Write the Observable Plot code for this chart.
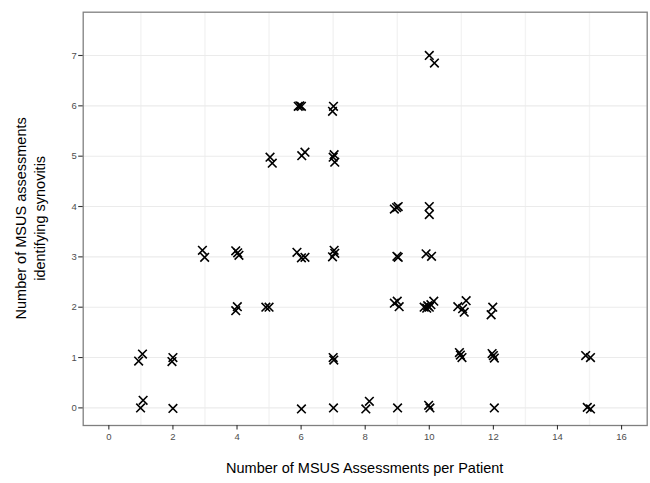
<!DOCTYPE html>
<html>
<head>
<meta charset="utf-8">
<script src="https://cdn.jsdelivr.net/npm/d3@7"></script>
<script src="https://cdn.jsdelivr.net/npm/@observablehq/plot@0.6"></script>
<style>
  html, body { margin: 0; padding: 0; background: #fff; }
  svg { display: block; }
</style>
</head>
<body>
<div id="chart"></div>
<script>
const assessments = [0.93,1.05,0.99,1.07, 2.0,1.97,2.0, 2.92,2.99, 3.96,4.06,4.02,3.96,4.01,
  4.9,5.0,5.03,5.1, 5.91,6.01,5.96,6.02,6.12,5.87,6.01,6.12,6.01,
  7.01,6.98,7.03,7.0,7.05,7.03,6.98,7.05,7.0,7.02,7.01, 8.02,8.13,
  8.91,9.03,8.98,9.03,8.99,8.91,9.06,9.0,9.01,
  10.0,10.0,9.9,10.07,9.84,9.95,10.0,10.14,9.92,10.05,9.98,10.02,10.0,10.16,
  10.89,11.04,11.15,11.09,10.94,11.02,10.97,
  11.98,11.93,11.96,12.03,12.0,12.03, 14.88,15.03,14.93,15.03];
const synovitis = [0.93,1.07,0.0,0.15, 1.0,0.92,-0.01, 3.13,2.99, 3.12,3.03,3.08,1.93,2.01,
  2.0,2.0,4.98,4.86, 5.99,5.99,6.0,5.01,5.08,3.09,2.98,2.99,-0.02,
  5.99,5.89,5.03,4.98,4.88,3.13,3.0,3.07,1.0,0.95,0.0, -0.02,0.13,
  3.95,4.0,3.98,2.99,3.01,2.08,2.01,2.12,0.0,
  4.0,3.84,3.06,3.01,2.0,2.03,2.0,2.12,1.98,2.05,0.05,0.0,7.0,6.85,
  2.01,1.97,2.13,1.9,1.1,1.0,1.05,
  2.0,1.85,1.08,0.99,1.04,0.0, 1.04,1.0,0.01,-0.02];
const xTicks = [0, 2, 4, 6, 8, 10, 12, 14, 16];
const xMinor = [1, 3, 5, 7, 9, 11, 13, 15];
const yTicks = [0, 1, 2, 3, 4, 5, 6, 7];
const xTitle = "Number of MSUS Assessments per Patient";
const yTitle = ["Number of MSUS assessments", "identifying synovitis"];

const data = assessments.map((x, i) => ({x, y: synovitis[i]}));

const W = 650, H = 483;
const mL = 82.7, mR = 3.3, mT = 11.7, mB = 58;

const plot = Plot.plot({
  width: W, height: H,
  marginLeft: mL, marginRight: mR, marginTop: mT, marginBottom: mB,
  style: {fontFamily: "'Liberation Sans', Arial, sans-serif", background: "#fff"},
  x: {domain: [-0.8, 16.8]},
  y: {domain: [-0.35, 7.86]},
  marks: [
    Plot.gridX(xMinor, {stroke: "#f3f3f3", strokeOpacity: 1, strokeWidth: 1.4}),
    Plot.gridY(yTicks, {stroke: "#ebebeb", strokeOpacity: 1, strokeWidth: 1.1}),
    Plot.dot(data, {x: "x", y: "y", symbol: "times", r: 4, stroke: "#000", strokeWidth: 1.6}),
    Plot.frame({stroke: "#7f7f7f", strokeWidth: 1.3}),
    Plot.axisX(xTicks, {tickSize: 4.5, tickPadding: 3, fontSize: 9.5, tickFormat: d3.format("d"), stroke: "#333", strokeWidth: 1.1, color: "#4d4d4d", label: null}),
    Plot.axisY(yTicks, {tickSize: 4.5, tickPadding: 2, fontSize: 9.5, tickFormat: d3.format("d"), stroke: "#333", strokeWidth: 1.1, color: "#4d4d4d", label: null})
  ]
});

const svg = d3.select(plot);
const cx = (mL + (W - mR)) / 2;
const cy = (mT + (H - mB)) / 2;
svg.append("text")
  .attr("x", cx).attr("y", 473)
  .attr("text-anchor", "middle")
  .attr("font-size", 14.5)
  .attr("fill", "#000")
  .text(xTitle);
const yt = svg.append("text")
  .attr("transform", `translate(26,${cy}) rotate(-90)`)
  .attr("text-anchor", "middle")
  .attr("font-size", 14.5)
  .attr("fill", "#000");
yt.append("tspan").attr("x", 0).attr("y", 0).text(yTitle[0]);
yt.append("tspan").attr("x", 0).attr("y", 19).text(yTitle[1]);

document.getElementById("chart").appendChild(plot);
</script>
</body>
</html>
